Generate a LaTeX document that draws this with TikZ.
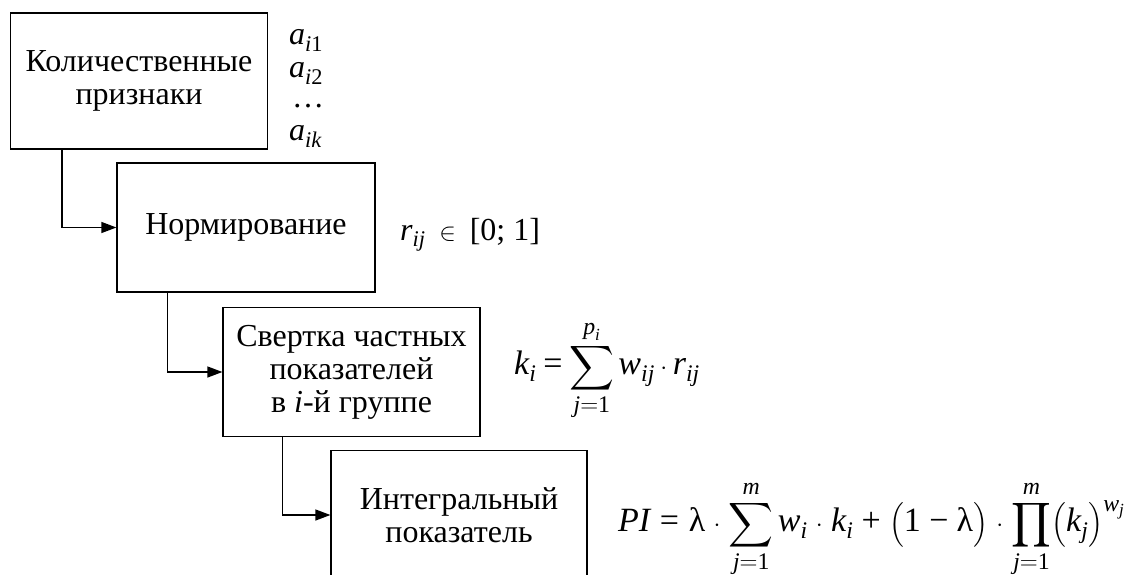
\documentclass[tikz,border=0pt]{standalone}
\usepackage{amsmath}
\usepackage{graphicx}
\usepackage{fontspec}
\setmainfont{Liberation Serif}
\usetikzlibrary{arrows.meta,calc}
\newcommand{\vi}[1]{\textit{#1}}
\newcommand{\lam}{\textup{λ}}
\newcommand{\eqs}{\mathrel{\text{=}}}
\newcommand{\pls}{\mathbin{\text{+}}}
\newcommand{\mns}{\mathbin{\text{−}}}
\newcommand{\bsum}{\mathop{\vcenter{\hbox{\scalebox{1.25}{$\displaystyle\sum$}}}}\limits}
\newcommand{\bprod}{\mathop{\vcenter{\hbox{\scalebox{1.25}{$\displaystyle\prod$}}}}\limits}
\begin{document}
\begin{tikzpicture}[x=1pt,y=-1pt,
  box/.style={draw,line width=1.2pt,minimum width=257pt,minimum height=129pt,align=center,inner sep=0pt,font=\fontsize{32}{33}\selectfont},
  arr/.style={line width=1.2pt,-{Triangle[length=15pt,width=11pt]}},
  lbl/.style={inner sep=0pt,font=\fontsize{32}{33}\selectfont},
  frm/.style={inner sep=0pt,anchor=base west,font=\fontsize{34}{36}\selectfont}]
\useasboundingbox (0,0) rectangle (1140,575);
\clip (0,0) rectangle (1140,575);
\node[box,minimum height=136pt] (b1) at (139,81) {Количественные\\признаки};
\node[box,minimum width=258pt] (b2) at (246,227.5) {Нормирование};
\node[box] (b3) at (351.5,372) {Свертка частных\\показателей\\в \vi{i}-й группе};
\node[box,minimum width=256pt] (b4) at (459,515) {Интегральный\\показатель};
\draw[arr] ([xshift=52pt]b1.south west) |- (b2.west);
\draw[arr] ([xshift=51pt]b2.south west) |- (b3.west);
\draw[arr] ([xshift=60pt]b3.south west) |- (b4.west);
\node[lbl,anchor=base west] (a1) at (289,45) {$\vi{a}_{\vi{i}\text{1}}$};
\node[lbl,anchor=base west] (a2) at (289,78) {$\vi{a}_{\vi{i}\text{2}}$};
\node[lbl,anchor=base west] (a3) at (292,108) {\dots};
\node[lbl,anchor=base west] (a4) at (289,141) {$\vi{a}_{\vi{ik}}$};
\node[lbl,anchor=base west] (r) at (400,240) {$\vi{r}_{\vi{ij}}\;\in\;\text{[0; 1]}$};
\node[frm] (k) at (514,374) {$\displaystyle \vi{k}_{\vi{i}}\eqs\bsum_{\vi{j}=\text{1}}^{\vi{p}_{\vi{i}}} \vi{w}_{\vi{ij}}\cdot \vi{r}_{\vi{ij}}$};
\node[frm] (pi) at (618,531) {\medmuskip=6mu\thickmuskip=7mu$\displaystyle \vi{PI}\eqs\lam\cdot\bsum_{\vi{j}=\text{1}}^{\vi{m}} \vi{w}_{\vi{i}}\cdot \vi{k}_{\vi{i}}\pls\Bigl(\text{1}\mns\lam\Bigr)\cdot\bprod_{\vi{j}=\text{1}}^{\vi{m}}\Bigl(\vi{k}_{\vi{j}}\Bigr)^{\vi{w}_{\vi{j}}}$};
\end{tikzpicture}
\end{document}
